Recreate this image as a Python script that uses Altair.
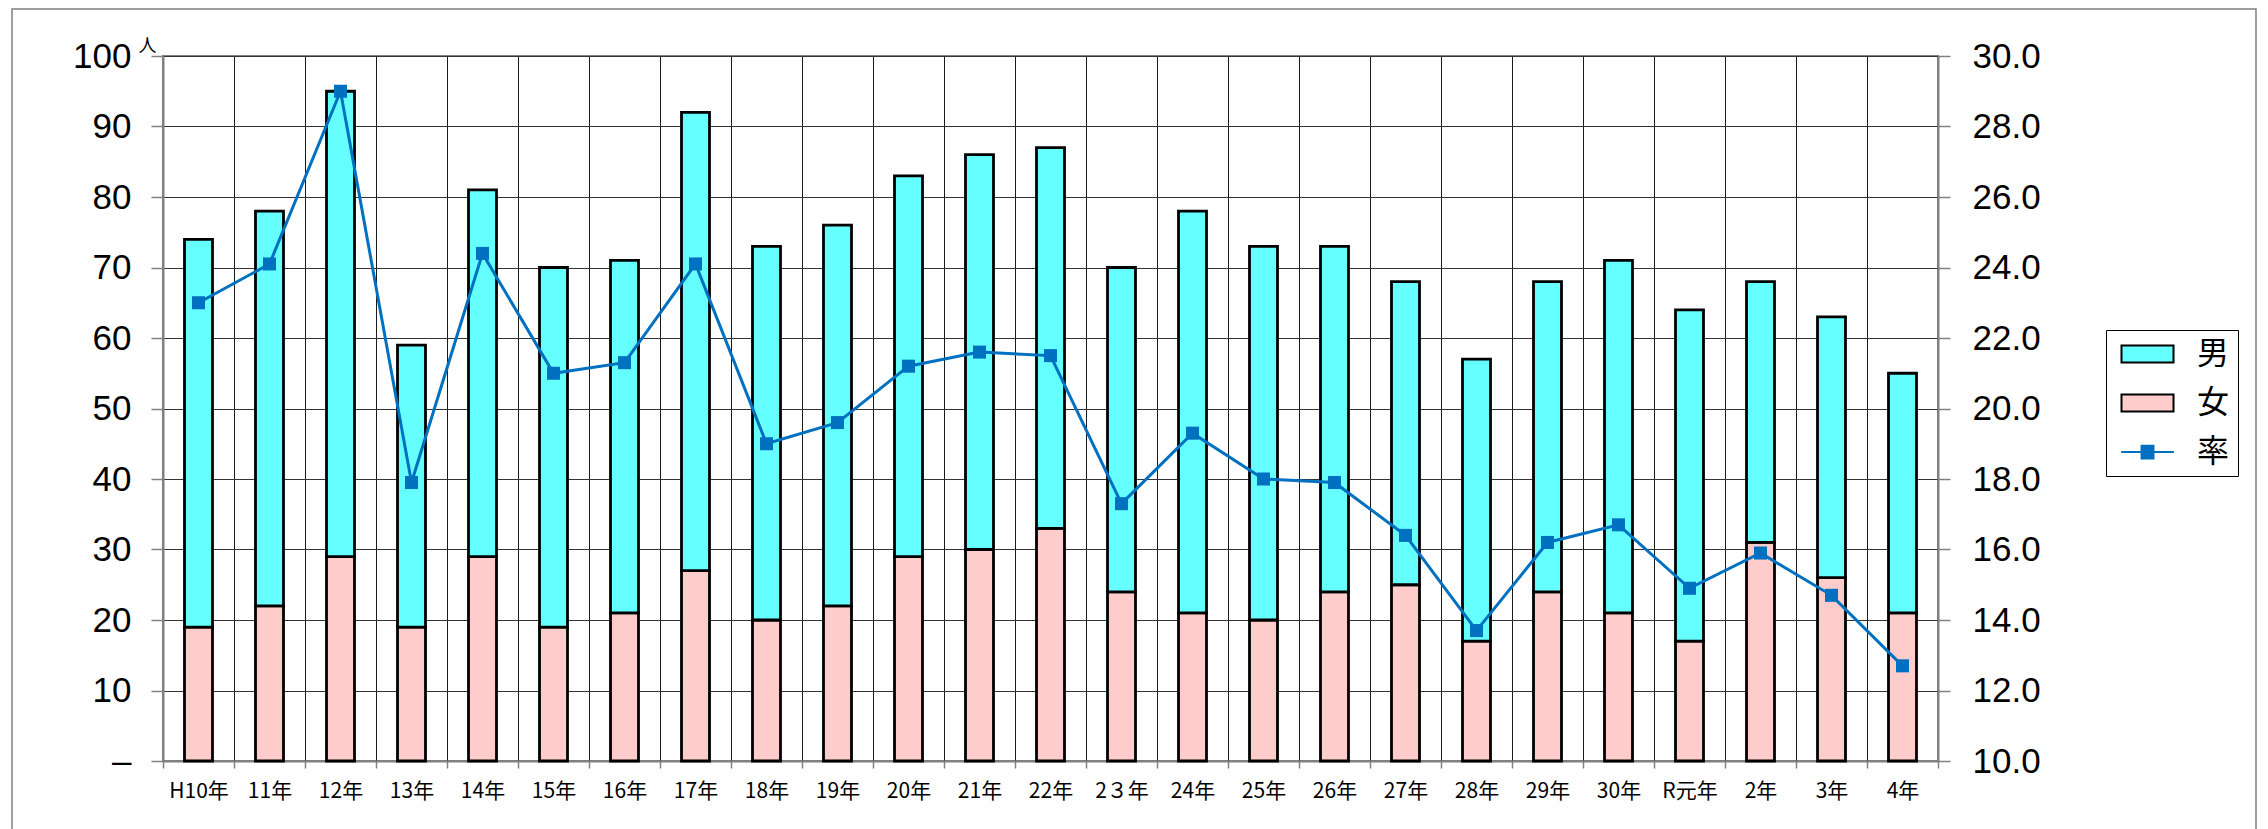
import altair as alt
import pandas as pd

# ---- data ----
labels = ["H10年", "11年", "12年", "13年", "14年", "15年", "16年", "17年", "18年", "19年",
          "20年", "21年", "22年", "2３年", "24年", "25年", "26年", "27年", "28年", "29年",
          "30年", "R元年", "2年", "3年", "4年"]
female = [19, 22, 29, 19, 29, 19, 21, 27, 20, 22, 29, 30, 33, 24, 21, 20, 24, 25, 17, 24, 21, 17, 31, 26, 21]
male = [55, 56, 66, 40, 52, 51, 50, 65, 53, 54, 54, 56, 54, 46, 57, 53, 49, 43, 40, 44, 50, 47, 37, 37, 34]
rate = [23.0, 24.1, 29.0, 17.9, 24.4, 21.0, 21.3, 24.1, 19.0, 19.6, 21.2, 21.6, 21.5, 17.3, 19.3,
        18.0, 17.9, 16.4, 13.7, 16.2, 16.7, 14.9, 15.9, 14.7, 12.7]
series = ["男", "女", "率"]

# ---- styles ----
CYAN = "#66FFFF"
PINK = "#FFCCCC"
BLUE = "#0070C0"
GRAY = "#808080"
NUM_FONT = "Liberation Sans"
JP_FONT = "Noto Sans CJK JP"

rows = []
for i, lab in enumerate(labels):
    rows.append({"label": lab, "series": "女", "value": female[i], "order": 0})
    rows.append({"label": lab, "series": "男", "value": male[i], "order": 1})
bars_df = pd.DataFrame(rows)
rate_df = pd.DataFrame({"label": labels, "rate": rate})
legend_df = pd.DataFrame({"series": series})
frame_df = pd.DataFrame({"k": [0]})

x_enc = alt.X(
    "label:N", sort=labels, title=None,
    scale=alt.Scale(paddingInner=0, paddingOuter=0),
    axis=alt.Axis(labelAngle=0, labelFont=JP_FONT, labelFontSize=21, labelColor="black",
                  labelPadding=12, tickBand="extent", grid=True, gridColor="#1a1a1a",
                  gridWidth=1, tickColor=GRAY, tickSize=7, tickWidth=1.5,
                  domainColor=GRAY, domainWidth=2),
)

bars = alt.Chart(bars_df).mark_bar(size=28, stroke="black", strokeWidth=2.8).encode(
    x=x_enc,
    y=alt.Y("value:Q", stack="zero", title="人",
            scale=alt.Scale(domain=[0, 100], nice=False),
            axis=alt.Axis(values=list(range(0, 101, 10)), orient="left", grid=True,
                          gridColor="#333333", gridWidth=1,
                          labelExpr="datum.value == 0 ? '–' : datum.label",
                          labelFont=NUM_FONT, labelFontSize=35, labelColor="black",
                          labelPadding=20, tickColor=GRAY, tickSize=12, tickWidth=1.5,
                          domainColor=GRAY, domainWidth=2,
                          titleAngle=0, titleX=-16, titleY=-10, titleAlign="center",
                          titleBaseline="middle", titleFont=JP_FONT, titleFontSize=18,
                          titleFontWeight="normal", titleColor="black")),
    fill=alt.Fill("series:N", scale=alt.Scale(domain=series[:2], range=[CYAN, PINK]), legend=None),
    order=alt.Order("order:Q"),
)

rate_y = alt.Y("rate:Q", title=None, scale=alt.Scale(domain=[10, 30], nice=False),
               axis=alt.Axis(values=list(range(10, 31, 2)), orient="right", grid=False,
                             format=".1f", labelFont=NUM_FONT, labelFontSize=35,
                             labelColor="black", labelPadding=22, tickColor=GRAY,
                             tickSize=12, tickWidth=1.5, domainColor=GRAY, domainWidth=2))

line = alt.Chart(rate_df).mark_line(color=BLUE, strokeWidth=3).encode(
    x=alt.X("label:N", sort=labels), y=rate_y)
pts = alt.Chart(rate_df).mark_point(shape="square", filled=True, size=170, color=BLUE, opacity=1).encode(
    x=alt.X("label:N", sort=labels), y=rate_y)
rate_layer = alt.layer(line, pts)

# legend glyphs (52 x 17 px rectangles, a line with a square), drawn at symbol size 17^2
RECT_PATH = "M-1,-1H5.12V1H-1Z"
LINE_PATH = "M-1.04,0H5.16M1.36,-0.75H2.76V0.75H1.36Z"

leg = alt.Legend(orient="none", legendX=1943, legendY=274, title=None)

legend_layer = alt.Chart(legend_df).mark_point(filled=True, strokeWidth=2.5, size=0, opacity=1).encode(
    color=alt.Color("series:N", legend=leg,
                    scale=alt.Scale(domain=series, range=[CYAN, PINK, BLUE])),
    shape=alt.Shape("series:N", legend=leg,
                    scale=alt.Scale(domain=series, range=[RECT_PATH, RECT_PATH, LINE_PATH])),
    stroke=alt.Stroke("series:N", legend=leg,
                      scale=alt.Scale(domain=series, range=["black", "black", BLUE])),
)

frame = alt.Chart(frame_df).mark_rect(filled=False, stroke=GRAY, strokeWidth=1.5).encode(
    x=alt.value(-151), x2=alt.value(2093), y=alt.value(-47), y2=alt.value(820))

chart = alt.layer(bars, rate_layer, legend_layer, frame).resolve_scale(
    y="independent"
).properties(
    width=1775, height=705,
    padding={"left": 3, "top": 0, "right": 0, "bottom": 0},
).configure_view(
    fill="#C0C0C0", stroke=GRAY, strokeWidth=2
).configure_legend(
    strokeColor="black", fillColor="white", padding=8,
    labelFont=JP_FONT, labelFontSize=32, labelColor="black",
    symbolSize=289, symbolStrokeWidth=2, symbolOffset=0, labelOffset=51, rowPadding=17,
)

chart.save("out.html", embed_options={"renderer": "svg", "actions": False})
